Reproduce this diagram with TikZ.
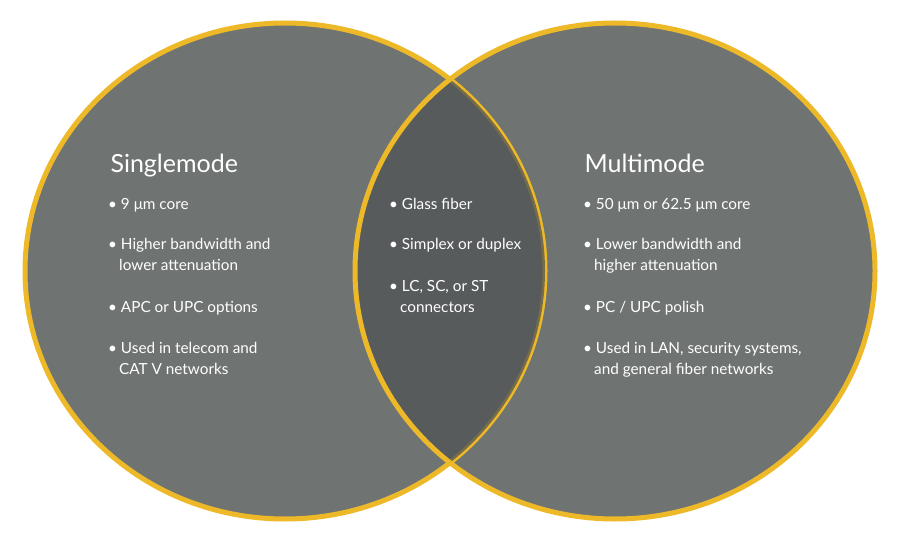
\documentclass[tikz,border=0pt]{standalone}
\usepackage{fontspec}
\setmainfont{Lato}
\begin{document}
\begin{tikzpicture}[x=1pt,y=-1pt,
 ttl/.style={anchor=base west,text=white,font=\fontsize{25}{28}\selectfont},
 bl/.style={anchor=north west,text=white,align=left,inner sep=0pt,font=\fontsize{15.3}{21.5}\selectfont}]
\useasboundingbox (0,0) rectangle (900,540);
\fill[white] (0,0) rectangle (900,540);
\definecolor{gr}{HTML}{6F7472}\definecolor{dk}{HTML}{4F5355}\definecolor{yl}{HTML}{EDB928}
\fill[gr] (285,271) ellipse [x radius=260,y radius=248];
\fill[gr] (615,271) ellipse [x radius=260,y radius=248];
\draw[yl,line width=5] (285,271) ellipse [x radius=260,y radius=248];
\begin{scope}
\clip (285,271) ellipse [x radius=260,y radius=248];
\fill[dk,opacity=0.75] (615,271) ellipse [x radius=260,y radius=248];
\end{scope}
\draw[yl,line width=5] (615,271) ellipse [x radius=260,y radius=248];
\node[ttl] (t1) at (107,173) {Singlemode};
\node[ttl] (t2) at (581,173) {Multimode};
\node[bl] (a1) at (108,198) {•\ 9 μm core};
\node[bl] (a2) at (108,238) {•\ Higher bandwidth and\\\hspace*{11pt}lower attenuation};
\node[bl] (a3) at (108,301) {•\ APC or UPC options};
\node[bl] (a4) at (108,342) {•\ Used in telecom and\\\hspace*{11pt}CAT V networks};
\node[bl] (b1) at (389,198) {•\ Glass fiber};
\node[bl] (b2) at (389,238) {•\ Simplex or duplex};
\node[bl] (b3) at (389,280) {•\ LC, SC, or ST\\\hspace*{11pt}connectors};
\node[bl] (c1) at (583,198) {•\ 50 μm or 62.5 μm core};
\node[bl] (c2) at (583,238) {•\ Lower bandwidth and\\\hspace*{11pt}higher attenuation};
\node[bl] (c3) at (583,301) {•\ PC / UPC polish};
\node[bl] (c4) at (583,342) {•\ Used in LAN, security systems,\\\hspace*{11pt}and general fiber networks};
\end{tikzpicture}
\end{document}
